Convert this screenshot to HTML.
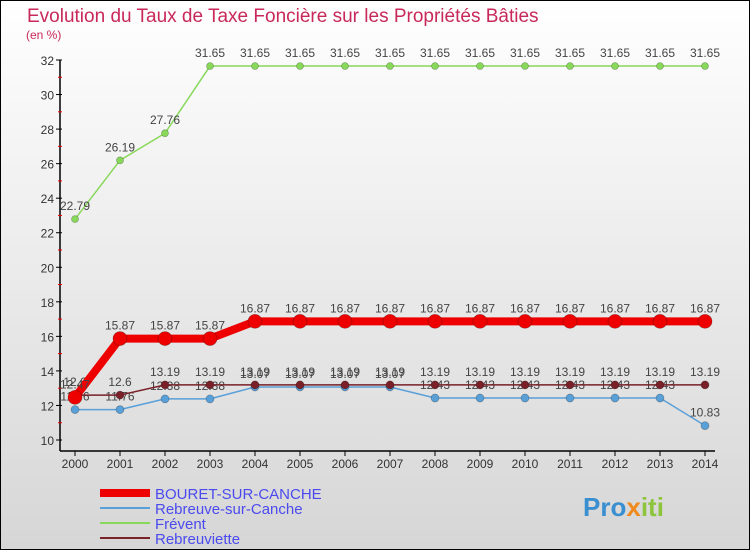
<!DOCTYPE html>
<html><head><meta charset="utf-8"><style>
body{margin:0;}
svg{display:block;font-family:"Liberation Sans",sans-serif;}
</style></head><body>
<svg id="chart" width="750" height="550" viewBox="0 0 750 550">
<defs><linearGradient id="bg" x1="0" y1="0" x2="0" y2="1"><stop offset="0" stop-color="#ffffff"/><stop offset="1" stop-color="#d6d6d6"/></linearGradient></defs>
<rect x="0.5" y="0.5" width="749" height="549" fill="url(#bg)" stroke="#000"/>
<text x="27" y="22" font-size="19" fill="#c8285a">Evolution du Taux de Taxe Foncière sur les Propriétés Bâties</text>
<text x="26" y="39" font-size="12" fill="#c8285a">(en %)</text>
<g id="axes"></g>
<g id="series"></g>
<g id="legend"></g>
<text x="583" y="516" font-size="26" font-weight="bold" fill="#3a8fd0">Pro<tspan fill="#f08a1c">x</tspan><tspan fill="#8cc43c">iti</tspan></text>
</svg>
<script>
const years=[2000,2001,2002,2003,2004,2005,2006,2007,2008,2009,2010,2011,2012,2013,2014];
const bouret=[12.47,15.87,15.87,15.87,16.87,16.87,16.87,16.87,16.87,16.87,16.87,16.87,16.87,16.87,16.87];
const rebreuve=[11.76,11.76,12.38,12.38,13.07,13.07,13.07,13.07,12.43,12.43,12.43,12.43,12.43,12.43,10.83];
const frevent=[22.79,26.19,27.76,31.65,31.65,31.65,31.65,31.65,31.65,31.65,31.65,31.65,31.65,31.65,31.65];
const rebreuviette=[12.6,12.6,13.19,13.19,13.19,13.19,13.19,13.19,13.19,13.19,13.19,13.19,13.19,13.19,13.19];
const yTicks=[10,12,14,16,18,20,22,24,26,28,30,32];
const NS='http://www.w3.org/2000/svg';
const X=i=>75+i*45;
const Y=v=>440-(v-10)*(380/22);
function mk(tag,attrs,parent){const e=document.createElementNS(NS,tag);for(const k in attrs)e.setAttribute(k,attrs[k]);parent.appendChild(e);return e;}
const axes=document.getElementById('axes');
let yl=mk('line',{x1:60,y1:60,x2:60,y2:451,stroke:'#000','stroke-width':1.5},axes);


let xl=mk('line',{x1:60,y1:451,x2:715,y2:451,stroke:'#000','stroke-width':1.5},axes);


yTicks.forEach(v=>{
 mk('line',{x1:56,y1:Y(v),x2:62,y2:Y(v),stroke:'#000'},axes);
 if(v<32)mk('line',{x1:58,y1:Y(v+1),x2:62,y2:Y(v+1),stroke:'#e00'},axes);
 const t=mk('text',{x:54,y:Y(v)+5,'font-size':12,'text-anchor':'end',fill:'#333'},axes);t.textContent=v;
 
 
});
years.forEach((yr,i)=>{
 mk('line',{x1:X(i),y1:451,x2:X(i),y2:456,stroke:'#000'},axes);
 const t=mk('text',{x:X(i),y:468,'font-size':12,'text-anchor':'middle',fill:'#333'},axes);t.textContent=yr;
 
 
});
const sg=document.getElementById('series');
function draw(vals,color,w,r,name,labels){
 const g=mk('g',{},sg);
 
 
 mk('polyline',{points:vals.map((v,i)=>X(i)+','+Y(v)).join(' '),fill:'none',stroke:color,'stroke-width':w,'stroke-linejoin':'round'},g);
 vals.forEach((v,i)=>{
  const c=mk('circle',{cx:X(i),cy:Y(v),r:r,fill:color,stroke:'rgba(0,0,0,0.3)','stroke-width':0.7},g);
  
  
  if(labels){const t=mk('text',{x:X(i),y:Y(v)-9,'font-size':12,'text-anchor':'middle',fill:'#444'},g);t.textContent=v;
  
  }
 });
}
draw(frevent,'#88d85a',1.5,3.5,'frevent',true);
draw(rebreuve,'#5aa0d8',1.5,4,'rebreuve',true);
draw(rebreuviette,'#7a2028',1.5,4,'rebreuviette',true);
draw(bouret,'#ee0000',8,7,'bouret',true);
const lg=document.getElementById('legend');
const items=[['BOURET-SUR-CANCHE','#ee0000',8],['Rebreuve-sur-Canche','#5aa0d8',2],['Frévent','#88d85a',2],['Rebreuviette','#7a2028',2]];
items.forEach((it,k)=>{
 const y=493+k*15;
 const g=mk('g',{},lg);
 
 
 mk('line',{x1:100,y1:y,x2:150,y2:y,stroke:it[1],'stroke-width':it[2]},g);
 const t=mk('text',{x:155,y:y+6,'font-size':15,fill:'#4a4aee'},g);t.textContent=it[0];
});
</script>
</body></html>
